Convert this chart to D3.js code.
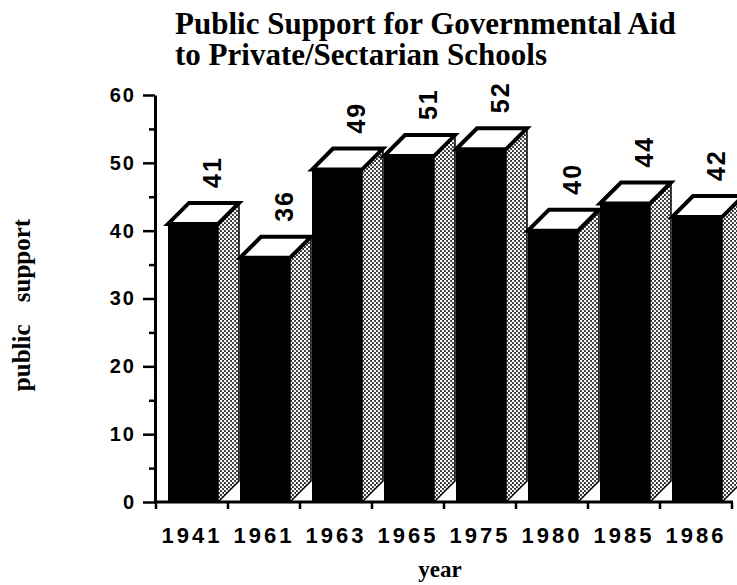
<!DOCTYPE html>
<html>
<head>
<meta charset="utf-8" />
<style>
  body { margin: 0; background: #fff; }
  .title { font-family: "Liberation Serif", "Times New Roman", serif; font-weight: bold; font-size: 31px; }
  .axis-title { font-family: "Liberation Serif", "Times New Roman", serif; font-weight: bold; }
  .tick text { font-family: "Liberation Sans", Arial, Helvetica, sans-serif; font-weight: bold; }
  .value { font-family: "Liberation Sans", Arial, Helvetica, sans-serif; font-size: 25px; letter-spacing: 2px; font-weight: bold; }
</style>
</head>
<body>
<div id="chart"></div>
<script src="https://cdn.jsdelivr.net/npm/d3@7"></script>
<script>
var years = ['1941', '1961', '1963', '1965', '1975', '1980', '1985', '1986'];
var support = [41, 36, 49, 51, 52, 40, 44, 42];
var yTicks = [0, 10, 20, 30, 40, 50, 60];
var yMinorTicks = [5, 15, 25, 35, 45, 55];
var titleLines = ['Public Support for Governmental Aid', 'to Private/Sectarian Schools'];

var width = 737, height = 585;
var depth = 21, barOffset = 12, barWidth = 50;

var svg = d3.select('#chart').append('svg')
  .attr('width', width)
  .attr('height', height);

// stipple for the side faces
var pat = svg.append('defs').append('pattern')
  .attr('id', 'stipple')
  .attr('patternUnits', 'userSpaceOnUse')
  .attr('width', 4).attr('height', 4);
pat.append('rect').attr('width', 4).attr('height', 4).attr('fill', '#333');
pat.append('circle').attr('cx', 1).attr('cy', 1).attr('r', 1.25).attr('fill', '#fff');
pat.append('circle').attr('cx', 3).attr('cy', 3).attr('r', 1.25).attr('fill', '#fff');

var x = d3.scaleBand().domain(years).range([156, 732]);
var y = d3.scaleLinear().domain([0, 60]).range([502, 95]);
var y0 = y(0);

var data = years.map(function(d, i) { return {year: d, value: support[i]}; });

// bars
var bar = svg.selectAll('g.bar')
  .data(data)
  .enter()
  .append('g')
  .attr('class', 'bar');

bar.append('rect')
  .attr('x', function(d) { return x(d.year) + barOffset; })
  .attr('y', function(d) { return y(d.value); })
  .attr('width', barWidth)
  .attr('height', function(d) { return y0 - y(d.value); })
  .attr('fill', '#000');

bar.append('polygon')
  .attr('points', function(d) {
    var x1 = x(d.year) + barOffset + barWidth, yv = y(d.value);
    return [[x1, yv], [x1 + depth, yv - depth], [x1 + depth, y0 - depth], [x1, y0]].join(' ');
  })
  .attr('fill', 'url(#stipple)')
  .attr('stroke', '#000')
  .attr('stroke-width', 1.5);

bar.append('polygon')
  .attr('points', function(d) {
    var x0 = x(d.year) + barOffset, x1 = x0 + barWidth, yv = y(d.value);
    return [[x0, yv], [x0 + depth, yv - depth], [x1 + depth, yv - depth], [x1, yv]].join(' ');
  })
  .attr('fill', '#fff')
  .attr('stroke', '#000')
  .attr('stroke-width', 4)
  .attr('stroke-linejoin', 'miter');

bar.append('text')
  .attr('class', 'value')
  .attr('transform', function(d) {
    return 'translate(' + (x(d.year) + barOffset + 44) + ',' + (y(d.value) - depth - 15) + ') rotate(-90)';
  })
  .attr('dy', '0.36em')
  .text(function(d) { return d.value; });

// y axis
var yAxis = svg.append('g')
  .attr('transform', 'translate(155,0)')
  .call(d3.axisLeft(y).tickValues(yTicks).tickSize(12).tickSizeOuter(0).tickPadding(7));
yAxis.select('.domain').attr('stroke-width', 3);
yAxis.selectAll('.tick line').attr('stroke-width', 2.5);
yAxis.selectAll('.tick text').style('font-size', '20px').style('letter-spacing', '2px');

var yMinor = svg.append('g')
  .attr('transform', 'translate(155,0)')
  .call(d3.axisLeft(y).tickValues(yMinorTicks).tickSize(6).tickFormat(''));
yMinor.select('.domain').remove();
yMinor.selectAll('.tick line').attr('stroke-width', 2.5);

// x axis: ticks at band edges, labels under the bars
var xAxis = svg.append('g')
  .attr('transform', 'translate(0,' + y0 + ')')
  .call(d3.axisBottom(x).tickSize(0).tickPadding(25));
xAxis.select('.domain').remove();
xAxis.selectAll('.tick text').style('font-size', '22px').style('letter-spacing', '3px');

svg.append('line')
  .attr('x1', 154).attr('x2', x.range()[1] + 1)
  .attr('y1', y0).attr('y2', y0)
  .attr('stroke', '#000').attr('stroke-width', 3);

svg.selectAll('line.xtick')
  .data(years.map(function(d) { return x(d); }).concat([x.range()[1]]))
  .enter()
  .append('line')
  .attr('class', 'xtick')
  .attr('x1', function(d) { return d; }).attr('x2', function(d) { return d; })
  .attr('y1', y0).attr('y2', y0 + 7)
  .attr('stroke', '#000').attr('stroke-width', 2.5);

// titles
svg.selectAll('text.title')
  .data(titleLines)
  .enter()
  .append('text')
  .attr('class', 'title')
  .attr('x', 175)
  .attr('y', function(d, i) { return 34 + i * 31; })
  .text(function(d) { return d; });

svg.append('text')
  .attr('class', 'axis-title')
  .attr('x', 440).attr('y', 577)
  .attr('text-anchor', 'middle')
  .style('font-size', '23px')
  .text('year');

svg.append('text')
  .attr('class', 'axis-title')
  .attr('transform', 'translate(30,305) rotate(-90)')
  .attr('text-anchor', 'middle')
  .style('font-size', '25px')
  .style('word-spacing', '16px')
  .text('public support');
</script>
</body>
</html>
